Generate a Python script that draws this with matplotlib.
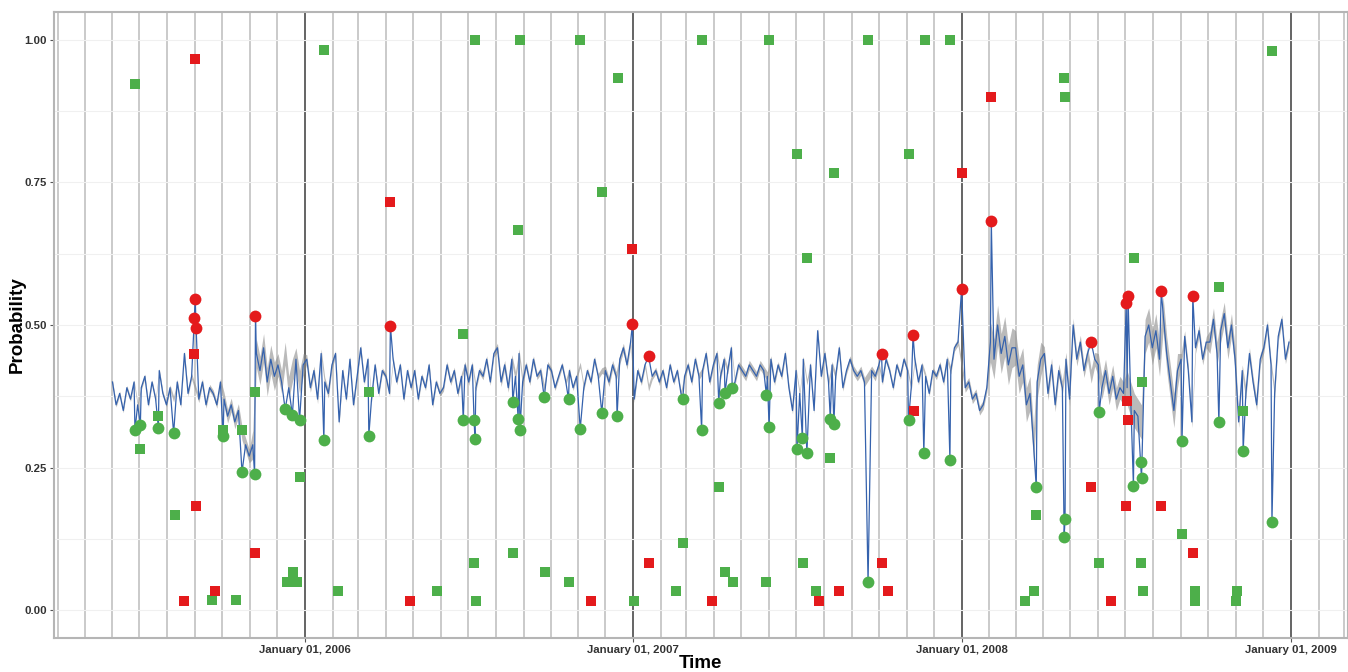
import numpy as np
import pandas as pd
import matplotlib
matplotlib.use("Agg")
import matplotlib.pyplot as plt
import matplotlib.dates as mdates

plt.rcParams["font.family"] = ["Liberation Sans", "DejaVu Sans"]

# probability series, every 4 days from 2005-06-01
line_start = "2005-06-01"
line_vals = [
    0.40, 0.36, 0.38, 0.35, 0.39, 0.37, 0.40, 0.36,  # 2005 jun
    0.39, 0.41, 0.36, 0.40, 0.37, 0.42, 0.38, 0.36,  # jul
    0.39, 0.37, 0.40, 0.36, 0.45, 0.38, 0.41,  # aug
    0.39, 0.37, 0.40, 0.36, 0.39, 0.38, 0.36, 0.40,  # sep
    0.37, 0.34, 0.36, 0.33, 0.35, 0.31, 0.29, 0.27,  # oct
    0.29, 0.45, 0.42, 0.46, 0.40, 0.44, 0.41,  # nov
    0.43, 0.40, 0.45, 0.39, 0.42, 0.44, 0.40, 0.43,  # dec
    0.44, 0.39, 0.42, 0.37, 0.45, 0.40, 0.38, 0.43,  # 2006 jan
    0.45, 0.33, 0.42, 0.37, 0.44, 0.36, 0.41,  # feb
    0.46, 0.40, 0.44, 0.37, 0.43, 0.38, 0.42,  # mar
    0.41, 0.38, 0.44, 0.40, 0.43, 0.37, 0.42, 0.39,  # apr
    0.42, 0.37, 0.41, 0.39, 0.43, 0.36, 0.40, 0.38,  # may
    0.39, 0.43, 0.40, 0.42, 0.38, 0.41, 0.43,  # jun
    0.40, 0.43, 0.39, 0.42, 0.41, 0.44, 0.40, 0.45,  # jul
    0.46, 0.40, 0.43, 0.39, 0.44, 0.41, 0.45, 0.40,  # aug
    0.43, 0.40, 0.44, 0.41, 0.42, 0.39, 0.43,  # sep
    0.42, 0.39, 0.41, 0.43, 0.40, 0.42, 0.39, 0.41,  # oct
    0.43, 0.39, 0.42, 0.40, 0.44, 0.41, 0.42,  # nov
    0.42, 0.40, 0.43, 0.41, 0.44, 0.46, 0.43, 0.47,  # dec
    0.37, 0.42, 0.40, 0.43, 0.39, 0.41, 0.42, 0.40,  # 2007 jan
    0.42, 0.39, 0.43, 0.40, 0.42, 0.38, 0.41,  # feb
    0.43, 0.40, 0.44, 0.41, 0.42, 0.45, 0.40, 0.43,  # mar
    0.45, 0.41, 0.44, 0.42, 0.46, 0.40, 0.43,  # apr
    0.42, 0.41, 0.43, 0.42, 0.41, 0.43, 0.42, 0.41,  # may
    0.44, 0.40, 0.43, 0.41, 0.45, 0.39, 0.35,  # jun
    0.42, 0.38, 0.44, 0.40, 0.43, 0.35, 0.49, 0.41,  # jul
    0.45, 0.40, 0.43, 0.41, 0.46, 0.39, 0.42, 0.44,  # aug
    0.42, 0.41, 0.42, 0.40, 0.41, 0.42, 0.41,  # sep
    0.43, 0.40, 0.44, 0.42, 0.39, 0.43, 0.41, 0.44,  # oct
    0.42, 0.39, 0.44, 0.40, 0.43, 0.41, 0.38, 0.42,  # nov
    0.41, 0.43, 0.40, 0.44, 0.42, 0.46, 0.47,  # dec
    0.43, 0.39, 0.40, 0.37, 0.38, 0.35, 0.36, 0.39,  # 2008 jan
    0.47, 0.44, 0.50, 0.45, 0.48, 0.43, 0.46,  # feb
    0.46, 0.41, 0.43, 0.36, 0.38, 0.29, 0.40, 0.44,  # mar
    0.45, 0.38, 0.43, 0.36, 0.42, 0.39, 0.44, 0.37,  # apr
    0.50, 0.44, 0.47, 0.42, 0.45, 0.41, 0.44,  # may
    0.43, 0.39, 0.42, 0.38, 0.41, 0.37, 0.39, 0.38,  # jun
    0.39, 0.37, 0.35, 0.34, 0.33, 0.48, 0.50, 0.46,  # jul
    0.49, 0.44, 0.52, 0.45, 0.40, 0.35, 0.42,  # aug
    0.44, 0.48, 0.42, 0.33, 0.46, 0.49, 0.44, 0.47,  # sep
    0.47, 0.51, 0.45, 0.49, 0.52, 0.46, 0.50, 0.44,  # oct
    0.33, 0.42, 0.38, 0.45, 0.40, 0.36, 0.44,  # nov
    0.46, 0.50, 0.43, 0.38, 0.48, 0.51, 0.44, 0.47,  # dec
]

# half width of the grey band, one value per month (jun 2005 .. dec 2008)
band_hw = [
    0.004, 0.004, 0.005, 0.006, 0.012, 0.025, 0.020,
    0.008, 0.005, 0.005, 0.005, 0.005, 0.006, 0.006, 0.008, 0.006, 0.005, 0.005, 0.008,
    0.006, 0.005, 0.006, 0.006, 0.008, 0.006, 0.005, 0.006, 0.008, 0.005, 0.005, 0.006,
    0.008, 0.035, 0.030, 0.012, 0.012, 0.020, 0.030, 0.030, 0.010, 0.020, 0.010, 0.008,
]

# low anomalies (green dots on the line)
green_pt_dates = [
    "2005-06-26", "2005-07-02", "2005-07-22", "2005-08-08", "2005-10-02", "2005-10-23",
    "2005-11-06", "2005-12-10", "2005-12-18", "2005-12-26", "2006-01-22", "2006-03-13",
    "2006-06-26", "2006-07-08", "2006-07-09", "2006-08-20", "2006-08-26", "2006-08-28",
    "2006-09-24", "2006-10-21", "2006-11-03", "2006-11-27", "2006-12-14", "2007-02-25",
    "2007-03-18", "2007-04-06", "2007-04-13", "2007-04-21", "2007-05-29", "2007-06-01",
    "2007-07-02", "2007-07-08", "2007-07-13", "2007-08-08", "2007-08-12", "2007-09-19",
    "2007-11-03", "2007-11-20", "2007-12-19", "2008-03-24", "2008-04-24", "2008-04-25",
    "2008-06-02", "2008-07-10", "2008-07-18", "2008-07-19", "2008-09-02", "2008-10-13",
    "2008-11-09", "2008-12-11",
]
green_pt_vals = [
    0.315, 0.325, 0.320, 0.310, 0.305, 0.242,
    0.238, 0.352, 0.342, 0.333, 0.298, 0.306,
    0.333, 0.333, 0.300, 0.365, 0.336, 0.316,
    0.373, 0.370, 0.318, 0.346, 0.340, 0.371,
    0.316, 0.364, 0.380, 0.389, 0.377, 0.321,
    0.282, 0.301, 0.275, 0.336, 0.326, 0.049,
    0.333, 0.275, 0.264, 0.215, 0.129, 0.159,
    0.348, 0.218, 0.259, 0.231, 0.296, 0.329,
    0.279, 0.154,
]

# high anomalies (red dots on the line)
red_pt_dates = [
    "2005-08-31", "2005-09-01", "2005-09-02", "2005-11-07", "2006-04-06", "2006-12-31",
    "2007-01-18", "2007-10-04", "2007-11-08", "2008-01-01", "2008-02-03", "2008-05-24",
    "2008-07-02", "2008-07-04", "2008-08-10", "2008-09-14",
]
red_pt_vals = [
    0.513, 0.546, 0.495, 0.515, 0.498, 0.501,
    0.445, 0.449, 0.482, 0.564, 0.682, 0.470,
    0.538, 0.550, 0.560, 0.551,
]

# event scores (squares)
red_sq_dates = [
    "2005-08-19", "2005-08-31", "2005-09-01", "2005-09-02", "2005-09-23", "2005-11-07",
    "2006-04-06", "2006-04-28", "2006-11-15", "2006-12-31", "2007-01-18", "2007-03-29",
    "2007-07-26", "2007-08-18", "2007-10-04", "2007-10-11", "2007-11-09", "2008-01-01",
    "2008-02-03", "2008-05-24", "2008-06-15", "2008-07-02", "2008-07-03", "2008-07-04",
    "2008-08-10", "2008-09-14",
]
red_sq_vals = [
    0.016, 0.450, 0.967, 0.183, 0.033, 0.100,
    0.716, 0.016, 0.016, 0.633, 0.083, 0.016,
    0.016, 0.033, 0.083, 0.033, 0.350, 0.767,
    0.900, 0.216, 0.016, 0.183, 0.367, 0.333,
    0.183, 0.100,
]
green_sq_dates = [
    "2005-06-26", "2005-07-02", "2005-07-22", "2005-08-09", "2005-09-20", "2005-10-02",
    "2005-10-16", "2005-10-23", "2005-11-07", "2005-12-12", "2005-12-19", "2005-12-23",
    "2005-12-26", "2006-01-22", "2006-02-07", "2006-03-13", "2006-05-28", "2006-06-26",
    "2006-07-09", "2006-07-08", "2006-07-10", "2006-08-20", "2006-08-28", "2006-08-26",
    "2006-09-25", "2006-10-21", "2006-11-03", "2006-11-27", "2006-12-15", "2007-01-02",
    "2007-02-18", "2007-02-25", "2007-03-18", "2007-04-06", "2007-04-13", "2007-04-22",
    "2007-05-29", "2007-06-01", "2007-07-02", "2007-07-09", "2007-07-13", "2007-07-23",
    "2007-08-12", "2007-08-08", "2007-09-19", "2007-11-03", "2007-11-21", "2007-12-19",
    "2008-03-11", "2008-03-21", "2008-03-24", "2008-04-24", "2008-04-25", "2008-06-02",
    "2008-07-11", "2008-07-19", "2008-07-18", "2008-07-21", "2008-09-02", "2008-09-17",
    "2008-09-16", "2008-10-13", "2008-11-02", "2008-11-01", "2008-11-09", "2008-12-11",
]
green_sq_vals = [
    0.923, 0.282, 0.340, 0.167, 0.018, 0.316,
    0.018, 0.316, 0.383, 0.049, 0.067, 0.049,
    0.233, 0.982, 0.033, 0.383, 0.033, 0.484,
    1.000, 0.083, 0.016, 0.100, 1.000, 0.667,
    0.066, 0.050, 1.000, 0.733, 0.933, 0.016,
    0.033, 0.117, 1.000, 0.216, 0.066, 0.050,
    0.050, 1.000, 0.800, 0.083, 0.617, 0.033,
    0.767, 0.266, 1.000, 0.800, 1.000, 1.000,
    0.016, 0.033, 0.167, 0.933, 0.900, 0.083,
    0.617, 0.400, 0.083, 0.033, 0.133, 0.033,
    0.016, 0.567, 0.033, 0.016, 0.350, 0.980,
]

# build the series: base values plus the anomaly days
base = pd.Series(line_vals, index=pd.date_range(line_start, periods=len(line_vals), freq="4D"))
month_idx = (base.index.year - 2005) * 12 + base.index.month - 6
hw = np.array(band_hw)[month_idx]
anom = pd.concat([
    pd.Series(green_pt_vals, index=pd.to_datetime(green_pt_dates)),
    pd.Series(red_pt_vals, index=pd.to_datetime(red_pt_dates)),
])
full = pd.concat([base.drop(anom.index, errors="ignore"), anom]).sort_index()

green = "#4DAF4A"
red = "#E41A1C"
blue = "#3562AD"

fig = plt.figure(figsize=(13.48, 6.72), dpi=100)
ax = fig.add_axes([54 / 1348, 34 / 672, 1293.5 / 1348, 626 / 672])

ax.fill_between(base.index, base.values - hw, base.values + hw, color="#8c8c8c",
                alpha=0.6, lw=0, zorder=2)
ax.plot(full.index, full.values, color=blue, lw=0.9, zorder=3)
ax.plot(pd.to_datetime(green_sq_dates), green_sq_vals, "s", color=green, ms=7.5, mew=0, zorder=4)
ax.plot(pd.to_datetime(red_sq_dates), red_sq_vals, "s", color=red, ms=7.5, mew=0, zorder=4)
ax.plot(pd.to_datetime(green_pt_dates), green_pt_vals, "o", color=green, ms=8.5, mew=0, zorder=5)
ax.plot(pd.to_datetime(red_pt_dates), red_pt_vals, "o", color=red, ms=8.5, mew=0, zorder=5)

ax.set_xlim(pd.Timestamp("2005-03-28"), pd.Timestamp("2009-03-05"))
ax.set_ylim(-0.049, 1.049)

ax.xaxis.set_major_locator(mdates.YearLocator())
ax.xaxis.set_major_formatter(mdates.DateFormatter("%B %d, %Y"))
ax.xaxis.set_minor_locator(mdates.MonthLocator())
ax.set_yticks([0, 0.25, 0.5, 0.75, 1.0])
ax.set_yticks([0.125, 0.375, 0.625, 0.875], minor=True)
ax.yaxis.set_major_formatter(matplotlib.ticker.FormatStrFormatter("%.2f"))

ax.set_axisbelow(True)
ax.grid(which="minor", axis="x", color="#bcbcbc", lw=1.1)
ax.grid(which="major", axis="x", color="#4a4a4a", lw=1.2)
ax.grid(which="both", axis="y", color="#f0f0f0", lw=0.8)

ax.tick_params(which="major", length=3, width=0.8, color="#555555", pad=2,
               labelsize=8.2, labelcolor="#333333")
ax.tick_params(which="minor", length=0)
for lab in ax.get_xticklabels() + ax.get_yticklabels():
    lab.set_fontweight("bold")

for sp in ax.spines.values():
    sp.set_color("#b5b5b5")
    sp.set_linewidth(1.5)

ax.set_xlabel("Time", fontsize=13.5, fontweight="bold", labelpad=0)
ax.set_ylabel("Probability", fontsize=13.5, fontweight="bold", labelpad=-1)

fig.savefig("out.png", dpi=100)
